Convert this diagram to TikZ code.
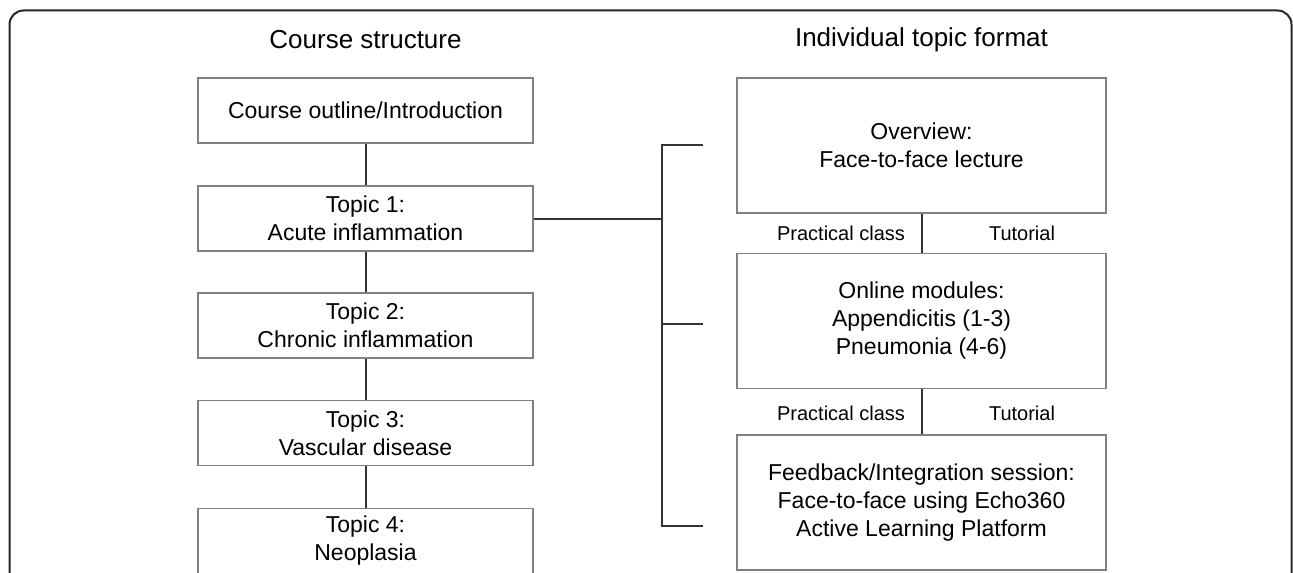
\documentclass[tikz,border=0pt]{standalone}
\usepackage{fontspec}
\setmainfont{Liberation Sans}
\begin{document}
\begin{tikzpicture}[x=0.5pt,y=-0.5pt,
  box/.style={draw=black!50, line width=0.75pt, inner sep=0pt, align=center,
    font=\fontsize{11.5}{14}\selectfont},
  lbox/.style={box, minimum width=167.5pt, minimum height=32.5pt},
  rbox/.style={box, minimum width=184.5pt, minimum height=67.5pt},
  conn/.style={draw=black!80, line width=1pt},
  title/.style={font=\fontsize{13}{15}\selectfont},
  lbl/.style={font=\fontsize{10}{12}\selectfont}]
\useasboundingbox (0,0) rectangle (1293,572);
% frame
\draw[black!85, line width=1pt, rounded corners=7pt] (9.5,640) -- (9.5,10.5) -- (1291.5,10.5) -- (1291.5,640);
% titles
\node[title] (tl) at (365.5,40) {Course structure};
\node[title] (tr) at (921.5,40) {Individual topic format};
% left column
\node[lbox] (c0) at (365.5,110.5) {Course outline/Introduction};
\node[lbox] (t1) at (365.5,218.5) {Topic 1:\\Acute inflammation};
\node[lbox] (t2) at (365.5,325.5) {Topic 2:\\Chronic inflammation};
\node[lbox] (t3) at (365.5,433) {Topic 3:\\Vascular disease};
\node[lbox] (t4) at (365.5,541) {Topic 4:\\Neoplasia};
\draw[conn] (c0.south) -- (t1.north);
\draw[conn] (t1.south) -- (t2.north);
\draw[conn] (t2.south) -- (t3.north);
\draw[conn] (t3.south) -- (t4.north);
% right column
\node[rbox] (ov) at (921.5,145.5) {Overview:\\Face-to-face lecture};
\node[rbox] (om) at (921.5,321) {Online modules:\\Appendicitis (1-3)\\Pneumonia (4-6)};
\node[rbox] (fb) at (921.5,502.5) {Feedback/Integration session:\\Face-to-face using Echo360\\Active Learning Platform};
\draw[conn] (ov.south) -- (om.north);
\draw[conn] (om.south) -- (fb.north);
\node[lbl] (p1) at (841,233) {Practical class};
\node[lbl] (u1) at (1022,233) {Tutorial};
\node[lbl] (p2) at (841,413) {Practical class};
\node[lbl] (u2) at (1022,413) {Tutorial};
% bracket
\coordinate (bT) at (703,145);
\coordinate (bM) at (703,324);
\coordinate (bB) at (703,526);
\coordinate (vT) at (662,145);
\coordinate (vB) at (662,526);
\draw[conn] (bT) -- (vT) -- (vB) -- (bB);
\draw[conn] (vT |- bM) -- (bM);
\draw[conn] (t1.east) -- (t1.east -| vT);
\end{tikzpicture}
\end{document}
